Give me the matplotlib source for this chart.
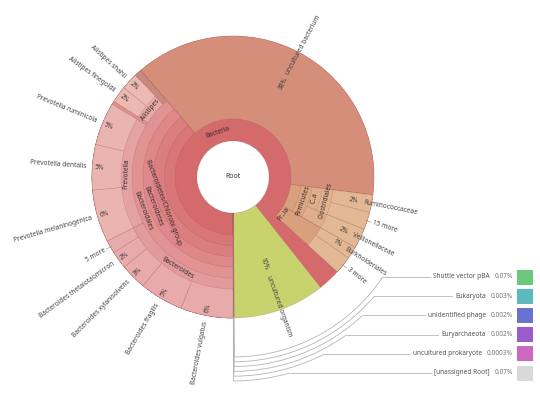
import numpy as np
import matplotlib.pyplot as plt
from matplotlib.patches import Wedge, Circle, Rectangle, Arc

plt.rcParams['font.family'] = ['Noto Sans', 'DejaVu Sans']

# ---- data: percent of all reads ----
top_names = ['Bacteria', 'uncultured organism', 'Shuttle vector pBA', 'Eukaryota',
             'unidentified phage', 'Euryarchaeota', 'uncultured prokaryote', '[unassigned Root]']
top_vals = [89.3, 10.5, 0.07, 0.003, 0.002, 0.002, 0.0003, 0.07]

# children of Bacteria (first ring after Bacteria)
bac_labels = ['', 'uncultured bacterium', '', 'Pr..ia']
bac_vals = [38.6, 38.4, 6.3, 3.4]

# Bacteroidetes chain (rings 2-4)
chain_labels = ['Bacteroidetes/Chlorobi group', 'Bacteroidetes', 'Bacteroidales']

gen_labels = ['Bacteroides', 'Prevotella', '', 'Alistipes', '']
gen_vals = [17.5, 16.1, 0.4, 3.8, 0.8]

bacteroides_names = ['Bacteroides vulgatus', 'Bacteroides fragilis', 'Bacteroides xylanisolvens',
                     'Bacteroides thetaiotaomicron', '5 more']
bacteroides_vals = [6.0, 5.0, 3.0, 2.0, 1.5]
prevotella_names = ['Prevotella melaninogenica', 'Prevotella dentalis', 'Prevotella ruminicola']
prevotella_vals = [6.0, 5.2, 4.9]
alistipes_names = ['Alistipes finegoldii', 'Alistipes shahii']
alistipes_vals = [1.9, 1.9]

# tan part (Firmicutes / Proteobacteria)
firm_labels = ['Firmicutes']
firm_vals = [6.3]
cla_labels = ['C..a', '']
cla_vals = [4.0, 2.3]
order_labels = ['Clostridiales']
order_vals = [4.0]
tan_names = ['Ruminococcaceae', '15 more', 'Veillonellaceae', 'Burkholderiales', '3 more']
tan_vals = [2.0, 2.0, 2.3, 1.4, 2.0]

tiny_colors = ['#6cc97c', '#5db8c0', '#6a72d0', '#9a5ccc', '#cc68c0', '#d9d9d9']

# ---- geometry ----
cx, cy = 233, 219
R_OUT = 141
RINGS = [36, 58, 68.5, 79.5, 90, 101, 112]
FS = 4.7
EDGE = (0.55, 0.3, 0.3, 0.3)
k = 360.0 / sum(top_vals)

fig = plt.figure(figsize=(5.4, 3.96), dpi=100)
ax = fig.add_axes([0, 0, 1, 1])
ax.set_xlim(0, 540)
ax.set_ylim(0, 396)
ax.axis('off')


def pol(r, th):
    t = np.radians(th)
    return cx + r * np.cos(t), cy + r * np.sin(t)


def layout(vals, start):
    spans = []
    a = start
    for v in vals:
        spans.append((a, a - v * k))
        a -= v * k
    return spans


def wedge(span, r_in, color):
    a0, a1 = span
    ax.add_patch(Wedge((cx, cy), R_OUT, a1, a0, width=R_OUT - r_in,
                       facecolor=color, edgecolor=EDGE, lw=0.4))


def norm(rot):
    return (rot + 90) % 180 - 90


def tang_label(span, r, text):
    if not text:
        return
    th = (span[0] + span[1]) / 2
    x, y = pol(r, th)
    ax.text(x, y, text, rotation=norm(th - 90), ha='center', va='center',
            rotation_mode='anchor', fontsize=FS, color='#3a2a2a', zorder=5)


def rad_text(th, r, text, align, color='#444444'):
    x, y = pol(r, th)
    right = np.cos(np.radians(th)) >= 0
    rot = norm(th) if right else norm(th - 180)
    if align == 'inner':
        ha = 'left' if right else 'right'
    else:
        ha = 'center'
    ax.text(x, y, text, rotation=rot, ha=ha, va='center', rotation_mode='anchor',
            fontsize=FS, color=color, zorder=5)


def leaf_labels(spans, names, vals, r_pct, r_name):
    for sp, n, v in zip(spans, names, vals):
        th = (sp[0] + sp[1]) / 2
        if n.endswith('more'):
            x0, y0 = pol(R_OUT - 1, th)
            x1, y1 = pol(r_name - 1.5, th)
            ax.plot([x0, x1], [y0, y1], color='#888888', lw=0.4, zorder=5)
            rad_text(th, r_name, n, 'inner')
        else:
            rad_text(th, r_pct, f"{v:.0f}%", 'center', '#3d3d3d')
            rad_text(th, r_name, n, 'inner')


# ---- top level ----
top_spans = layout(top_vals, 270)
wedge(top_spans[0], RINGS[0], '#d56a6d')
wedge(top_spans[1], RINGS[0], '#c9d36e')
for sp, c in zip(top_spans[2:], tiny_colors):
    wedge(sp, RINGS[0], c)

# ---- Bacteria children ----
bac_spans = layout(bac_vals, top_spans[0][0])
bac_cols = ['#d97677', '#d48e7a', '#d9a07e', '#d9a07e']
for sp, c in zip(bac_spans, bac_cols):
    wedge(sp, RINGS[1], c)

# Bacteroidetes chain
chain_cols = ['#db7e80', '#de8889', '#e19293']
for i, c in enumerate(chain_cols):
    wedge(bac_spans[0], RINGS[2 + i], c)

gen_spans = layout(gen_vals, bac_spans[0][0])
gen_cols = ['#e29a9c', '#e4a3a2', '#e19293', '#e6aba3', '#c98a7d']
for sp, c in zip(gen_spans, gen_cols):
    wedge(sp, RINGS[5], c)

bd_spans = layout(bacteroides_vals, gen_spans[0][0])
pv_spans = layout(prevotella_vals, gen_spans[1][0])
al_spans = layout(alistipes_vals, gen_spans[3][0])
for sp in bd_spans:
    wedge(sp, RINGS[6], '#e8aaab')
for sp in pv_spans:
    wedge(sp, RINGS[6], '#eab5b0')
for sp in al_spans:
    wedge(sp, RINGS[6], '#ecbab0')

# tan part
firm_spans = layout(firm_vals, bac_spans[2][0])
for sp in firm_spans:
    wedge(sp, RINGS[2], '#dca884')
cla_spans = layout(cla_vals, firm_spans[0][0])
for sp in cla_spans:
    wedge(sp, RINGS[3], '#dfae8a')
order_spans = layout(order_vals, cla_spans[0][0])
for sp in order_spans:
    wedge(sp, RINGS[4], '#e1b390')
tan_spans = layout(tan_vals, bac_spans[2][0])
for sp in tan_spans:
    wedge(sp, RINGS[5], '#e3b894')

# root
ax.add_patch(Circle((cx, cy), RINGS[0], facecolor='white', edgecolor=EDGE, lw=0.4, zorder=3))
ax.text(cx, cy, 'Root', ha='center', va='center', fontsize=5, fontweight='bold',
        color='#333333', zorder=5)

# ---- labels ----
tang_label(top_spans[0], 47, top_names[0])
for sp, t in zip(bac_spans, bac_labels):
    if t == 'uncultured bacterium':
        th = (sp[0] + sp[1]) / 2
        rad_text(th, 106, f"{bac_vals[1]:.0f}%", 'center', '#3d3d3d')
        rad_text(th, 116, t, 'inner')
    else:
        tang_label(sp, 63, t)
for i, t in enumerate(chain_labels):
    tang_label(bac_spans[0], (RINGS[2 + i] + RINGS[3 + i]) / 2, t)
for sp, t in zip(gen_spans, gen_labels):
    tang_label(sp, 106.5, t)
for sp, t in zip(firm_spans, firm_labels):
    tang_label(sp, 74, t)
for sp, t in zip(cla_spans, cla_labels):
    tang_label(sp, 84.5, t)
for sp, t in zip(order_spans, order_labels):
    tang_label(sp, 95.5, t)

th_org = (top_spans[1][0] + top_spans[1][1]) / 2
rad_text(th_org, 92, f"{top_vals[1]:.0f}%", 'center', '#3d3d3d')
rad_text(th_org, 105, top_names[1], 'inner')

leaf_labels(bd_spans, bacteroides_names, bacteroides_vals, 134, 147)
leaf_labels(pv_spans, prevotella_names, prevotella_vals, 134, 147)
leaf_labels(al_spans, alistipes_names, alistipes_vals, 134, 147)
for sp, n, v in zip(tan_spans, tan_names, tan_vals):
    if n.endswith('more'):
        leaf_labels([sp], [n], [v], 0, 147)
    else:
        leaf_labels([sp], [n], [v], 123, 133)

# ---- legend for the tiny top-level wedges ----
fig.canvas.draw()
renderer = fig.canvas.get_renderer()
inv = ax.transData.inverted()
for i, (sp, n, v, c) in enumerate(zip(top_spans[2:], top_names[2:], top_vals[2:], tiny_colors)):
    y = 119 - 19.2 * i
    r = 180 + 4.8 * i
    th = (sp[0] + sp[1]) / 2
    tp = ax.text(513, y, f"{v:g}%", ha='right', va='center', fontsize=FS, color='#777777')
    pl = inv.transform((tp.get_window_extent(renderer).x0, 0))[0]
    t = ax.text(pl - 5, y, n, ha='right', va='center', fontsize=FS, color='#555555')
    ax.add_patch(Rectangle((517, y - 7.5), 16, 15, facecolor=c, edgecolor='none'))
    alpha = np.degrees(np.arcsin((y - cy) / r))
    x0, y0 = pol(R_OUT, th)
    x1, y1 = pol(r, th)
    ax.plot([x0, x1], [y0, y1], color='#b5b5b5', lw=0.6)
    ax.add_patch(Arc((cx, cy), 2 * r, 2 * r, theta1=th, theta2=alpha, color='#b5b5b5', lw=0.6))
    bb = t.get_window_extent(renderer)
    xl = inv.transform((bb.x0, bb.y0))[0]
    ax.plot([cx + r * np.cos(np.radians(alpha)), xl - 3], [y, y], color='#b5b5b5', lw=0.6)

fig.savefig('out.png', dpi=100)
